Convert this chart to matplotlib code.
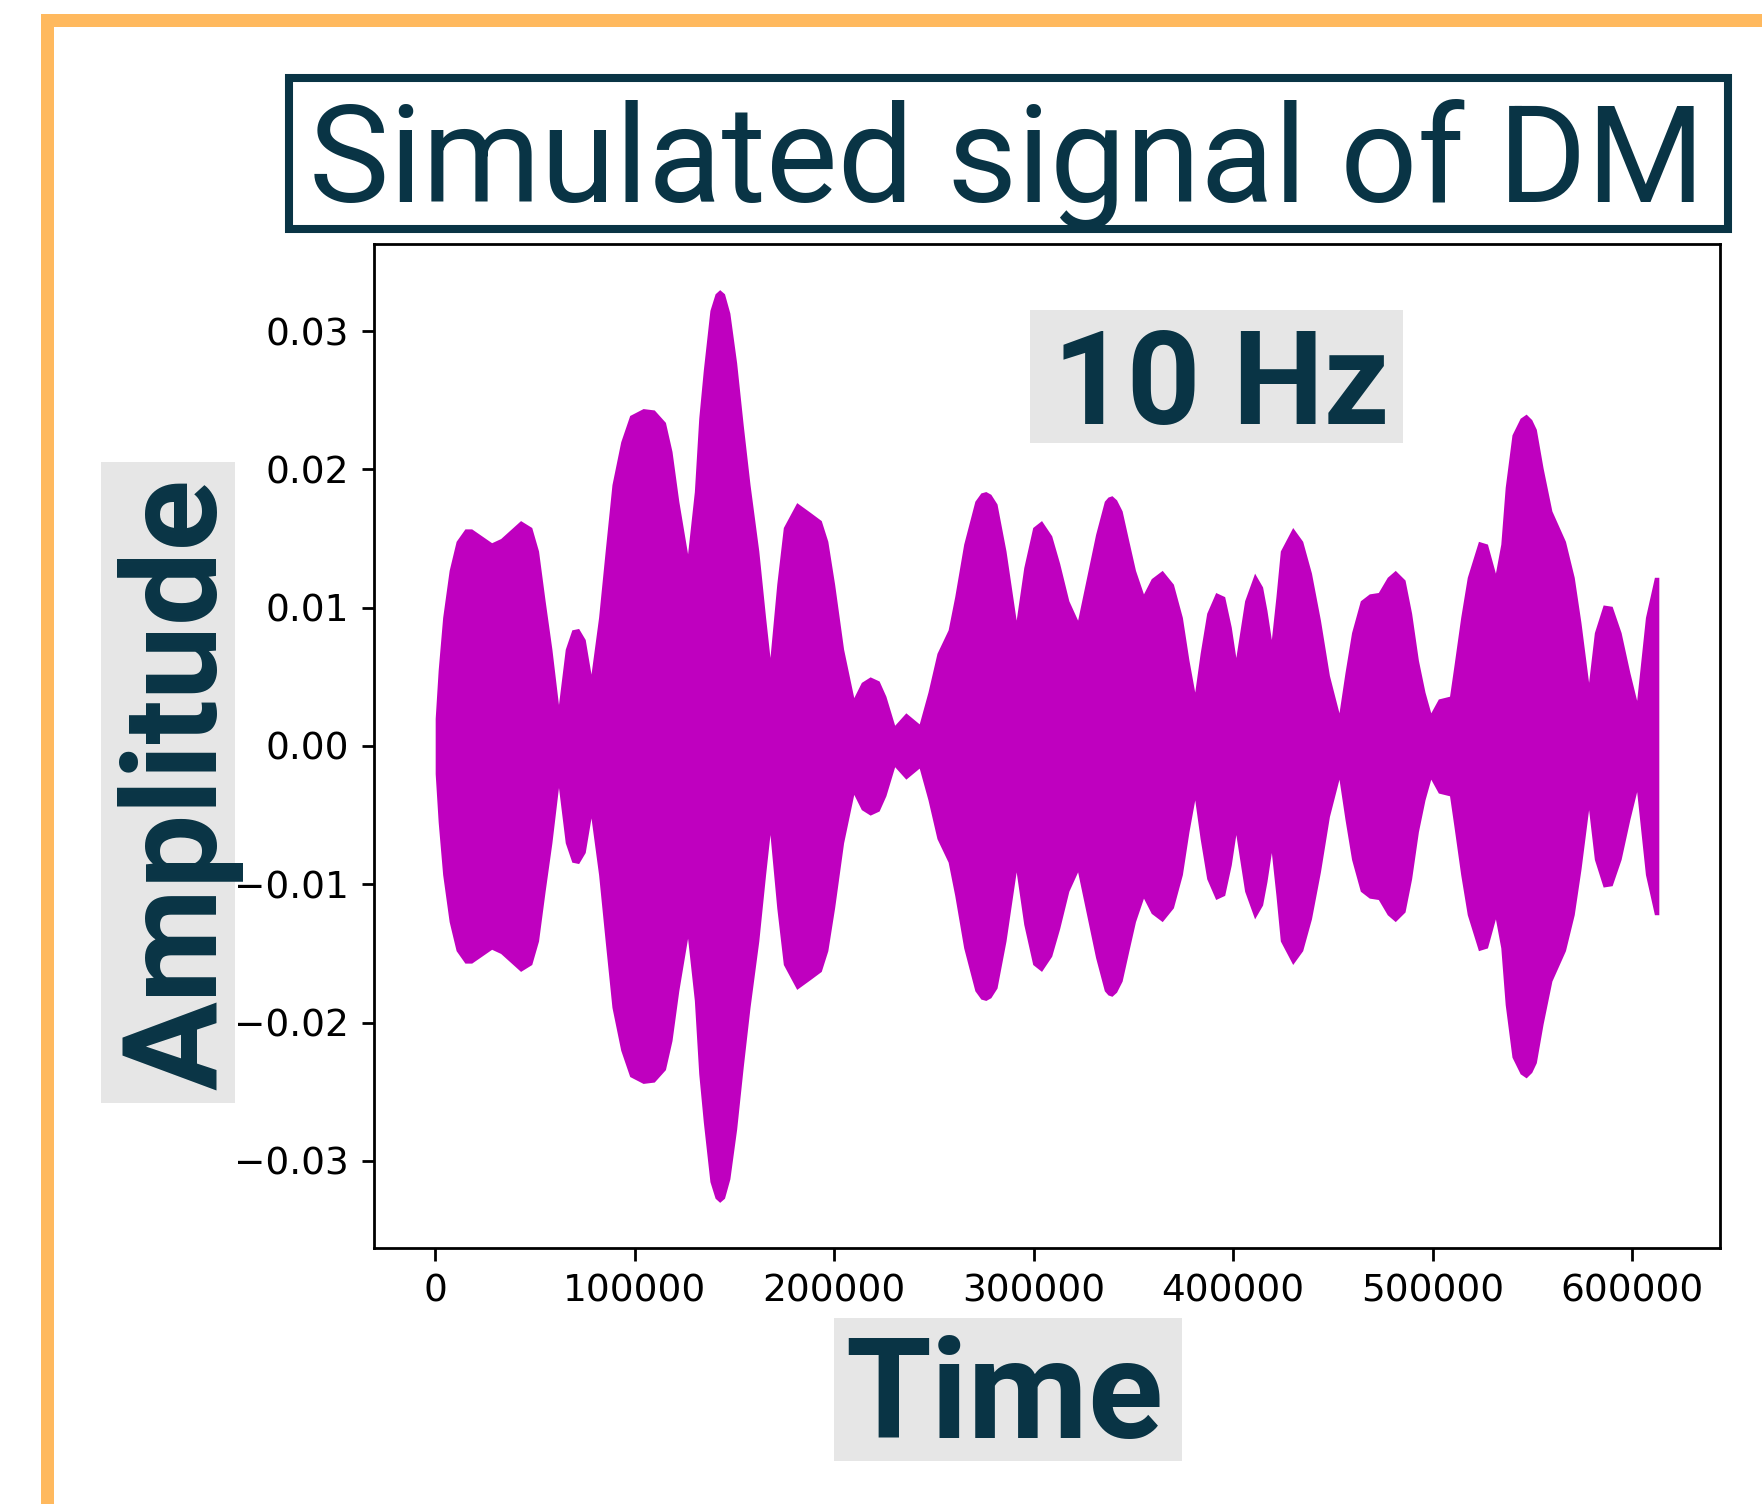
import matplotlib
matplotlib.use("Agg")
import matplotlib.pyplot as plt
from matplotlib.patches import Rectangle

# envelope of the simulated 10 Hz signal
time = [0, 1500, 3750, 7000, 10500, 14900, 18300, 28300, 32800, 42800,
        48400, 51800, 55100, 58500, 61800, 65200, 68500, 71900, 75200, 78100,
        81900, 85200, 88600, 93000, 97500, 104200, 109800, 115400, 118700, 122100,
        126500, 129900, 132100, 134400, 137700, 140300, 142600, 145000, 147700, 151100,
        154400, 157800, 162200, 165600, 167800, 171200, 174500, 181200, 187900, 193500,
        196800, 200200, 204700, 209800, 213600, 218000, 222500, 225900, 230300, 235900,
        242600, 247000, 251500, 257100, 260400, 264900, 270500, 273500, 276000, 278500,
        281600, 286100, 291200, 295000, 299500, 303900, 309000, 313000, 317600, 322000,
        326500, 331000, 335400, 337200, 339200, 341500, 344300, 347700, 351000, 355000,
        358900, 364400, 370000, 374500, 377800, 380700, 383400, 386700, 391200, 395700,
        399000, 401300, 405700, 410700, 414700, 416900, 419100, 421400, 423600, 429800,
        434800, 439200, 443700, 448200, 453000, 456000, 459300, 463700, 468200, 472700,
        477200, 481200, 486100, 489400, 492800, 496100, 499000, 502800, 508400, 510600,
        514000, 517300, 522900, 527400, 531400, 534100, 536300, 539700, 543800, 546800,
        549600, 551900, 555300, 559700, 566500, 570900, 574300, 578100, 581000, 585400,
        589900, 594400, 598800, 602200, 606600, 611100, 613300]
amplitude = [0.0020, 0.0055, 0.0093, 0.0127, 0.0148, 0.0157, 0.0157, 0.0147, 0.0150, 0.0163,
             0.0158, 0.0141, 0.0105, 0.0070, 0.0030, 0.0070, 0.0084, 0.0085, 0.0077, 0.0052,
             0.0093, 0.0141, 0.0189, 0.0220, 0.0239, 0.0244, 0.0243, 0.0234, 0.0213, 0.0177,
             0.0139, 0.0184, 0.0237, 0.0272, 0.0315, 0.0327, 0.0330, 0.0327, 0.0313, 0.0277,
             0.0232, 0.0189, 0.0141, 0.0093, 0.0064, 0.0117, 0.0158, 0.0176, 0.0169, 0.0163,
             0.0148, 0.0117, 0.0070, 0.0035, 0.0046, 0.0050, 0.0047, 0.0036, 0.0015, 0.0024,
             0.0016, 0.0039, 0.0067, 0.0084, 0.0108, 0.0146, 0.0177, 0.0183, 0.0184, 0.0182,
             0.0175, 0.0141, 0.0091, 0.0129, 0.0158, 0.0163, 0.0152, 0.0132, 0.0105, 0.0091,
             0.0122, 0.0153, 0.0177, 0.0180, 0.0181, 0.0178, 0.0170, 0.0148, 0.0127, 0.0110,
             0.0121, 0.0127, 0.0117, 0.0093, 0.0062, 0.0039, 0.0067, 0.0096, 0.0111, 0.0108,
             0.0086, 0.0064, 0.0105, 0.0125, 0.0115, 0.0098, 0.0077, 0.0108, 0.0141, 0.0158,
             0.0148, 0.0125, 0.0091, 0.0051, 0.0024, 0.0053, 0.0082, 0.0105, 0.0110, 0.0111,
             0.0122, 0.0127, 0.0120, 0.0096, 0.0062, 0.0039, 0.0024, 0.0034, 0.0036, 0.0058,
             0.0093, 0.0122, 0.0148, 0.0146, 0.0125, 0.0146, 0.0187, 0.0225, 0.0237, 0.0240,
             0.0236, 0.0229, 0.0201, 0.0170, 0.0148, 0.0122, 0.0089, 0.0046, 0.0082, 0.0102,
             0.0101, 0.0082, 0.0053, 0.0033, 0.0093, 0.0122, 0.0122]
lower = [-a for a in amplitude]

title = "Simulated signal of DM"
freq_label = "10 Hz"
xlabel = "Time"
ylabel = "Amplitude"

W, H = 1762, 1504
dark = "#093445"
grey = "#E6E6E6"
orange = "#FFB95E"
fam = ["Roboto", "DejaVu Sans"]

fig = plt.figure(figsize=(W / 100, H / 100), dpi=100)
ax = fig.add_axes([374 / W, 1 - 1248 / H, (1720 - 374) / W, (1248 - 244) / H])

ax.fill_between(time, lower, amplitude, color="m", linewidth=0)
ax.margins(x=0.05, y=0.05)

for s in ax.spines.values():
    s.set_linewidth(2)
ax.tick_params(labelsize=27, length=9, width=2, pad=9)


def px_rect(x0, y0, x1, y1, **kw):
    # rectangle given in pixel coords (origin top-left)
    r = Rectangle((x0 / W, 1 - y1 / H), (x1 - x0) / W, (y1 - y0) / H,
                  transform=fig.transFigure, **kw)
    fig.patches.append(r)


# orange frame on top and left
px_rect(41, 14, 1800, 27, facecolor=orange, edgecolor="none")
px_rect(41, 14, 54, 1600, facecolor=orange, edgecolor="none")

# title box
px_rect(289, 78, 1728, 229, facecolor="white", edgecolor=dark, linewidth=5.8)
t_title = fig.text(1007 / W, 1 - 202 / H, title, ha="center", va="baseline",
                   fontsize=90, color=dark, family=fam, fontweight="normal")

# grey label boxes
px_rect(1030, 310, 1403, 443, facecolor=grey, edgecolor="none", zorder=2)
t_freq = fig.text(1221 / W, 1 - 424 / H, freq_label, ha="center", va="baseline",
                  fontsize=90, color=dark, family=fam, fontweight="bold", zorder=3)

px_rect(834, 1318, 1182, 1461, facecolor=grey, edgecolor="none")
t_x = fig.text(1004 / W, 1 - 1438 / H, xlabel, ha="center", va="baseline",
               fontsize=94, color=dark, family=fam, fontweight="bold")

px_rect(101, 462, 235, 1103, facecolor=grey, edgecolor="none")
t_y = fig.text(216 / W, 1 - 784 / H, ylabel, ha="center", va="baseline", rotation=90,
               rotation_mode="anchor", fontsize=94, color=dark, family=fam,
               fontweight="bold")

# size the big texts so their length matches the reference
fig.canvas.draw()
r = fig.canvas.get_renderer()
for txt, target, vertical in [(t_title, 1397, False), (t_freq, 336, False),
                              (t_x, 318, False), (t_y, 612, True)]:
    bb = txt.get_window_extent(r)
    size = bb.height if vertical else bb.width
    txt.set_fontsize(txt.get_fontsize() * target / size)

fig.savefig("out.png", dpi=100)
